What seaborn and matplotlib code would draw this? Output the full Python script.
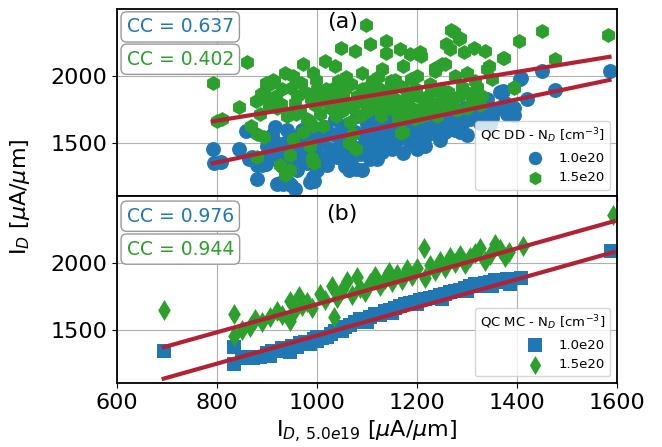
import matplotlib
matplotlib.use("Agg")
import matplotlib.pyplot as plt
import seaborn as sns

# ---- panel (a): QC DD ----
dd_blue_x = [791, 793, 807, 843, 857, 864, 870, 880, 880, 889, 897, 907, 913, 920, 925, 931, 943, 948, 956, 985, 991, 993,
             905, 910, 915, 925, 930, 935, 940, 945, 950, 955, 960,
             965, 970, 975, 980, 985, 990, 995, 1000, 1005, 1010,
             1015, 1020, 1025, 1030, 1035, 1040, 1045, 1050, 1055, 1058,
             1064, 1070, 1075, 1078, 1080, 1085, 1089, 1095, 1100, 1105, 1110,
             1115, 1118, 1120, 1125, 1129, 1135, 1140, 1145, 1150, 1155,
             1160, 1165, 1171, 1175, 1180, 1185, 1190, 1195, 1200, 1205,
             1210, 1216, 1220, 1223, 1230, 1238, 1245, 1250, 1255, 1260,
             1266, 1275, 1280, 1289, 1295, 1300, 1305, 1311, 1316,
             1325, 1335, 1339, 1343, 1350, 1359, 1366, 1371, 1375, 1380, 1393, 1393,
             1406, 1407, 1420, 1449, 1476, 1586,
             900, 918, 938, 962, 972, 998, 1012, 1022, 1048, 1062, 1068, 1092, 1102, 1122,
             1138, 1152, 1168, 1182, 1198, 1212, 1228, 1242, 1258, 1270, 1285, 1300, 1320, 1345]
dd_blue_y = [1455, 1351, 1357, 1455, 1588, 1380, 1400, 1232, 1334, 1337, 1347, 1470, 1519, 1199, 1202, 1199, 1200, 1187, 1162, 1211, 1248, 1215,
             1400, 1560, 1620, 1440, 1330, 1500, 1600, 1380, 1460, 1540, 1300,
             1420, 1600, 1500, 1350, 1640, 1450, 1560, 1300, 1400, 1520,
             1620, 1340, 1460, 1570, 1680, 1400, 1520, 1620, 1330, 1396,
             1300, 1480, 1580, 1310, 1700, 1420, 1300, 1540, 1640, 1384, 1470,
             1600, 1720, 1380, 1520, 1437, 1660, 1560, 1760, 1458, 1620,
             1520, 1700, 1425, 1600, 1780, 1500, 1660, 1560, 1458, 1720,
             1620, 1482, 1560, 1700, 1600, 1660, 1520, 1740, 1580, 1650,
             1690, 1600, 1700, 1640, 1760, 1560, 1680, 1762, 1704,
             1650, 1740, 1827, 1753, 1690, 1753, 1877, 1887, 1800, 1720, 1712, 1760,
             1975, 1988, 1830, 2037, 1894, 2037,
             1480, 1380, 1440, 1500, 1380, 1480, 1580, 1400, 1460, 1640, 1380, 1480, 1560, 1650,
             1480, 1700, 1560, 1640, 1620, 1540, 1650, 1600, 1700, 1640, 1580, 1720, 1700, 1640]

dd_green_x = [791, 800, 810, 843, 860, 867, 877, 880, 880, 887, 893, 893, 903, 905, 913, 911, 925, 935, 936, 945,
              946, 951, 951, 960, 971, 971, 985, 989, 991, 991, 991, 993, 1000, 1011, 1015, 1020, 1035, 1038, 1045, 1048,
              1058, 1064, 1065, 1071, 1075, 1078, 1080, 1090, 1098, 1105, 1110, 1115, 1125, 1130, 1138, 1138, 1145, 1155,
              1165, 1168, 1171, 1171, 1180, 1185, 1190, 1200, 1205, 1208, 1210, 1220, 1222, 1236, 1236, 1245, 1250, 1256,
              1257, 1266, 1268, 1273, 1276, 1283, 1283, 1286, 1293, 1300, 1314, 1316, 1316, 1336, 1339, 1343, 1349, 1371,
              1373, 1393, 1393, 1404, 1449, 1475, 1582,
              900, 920, 930, 940, 955, 965, 975, 980, 995, 1005, 1010, 1025, 1030, 1040, 1050, 1055, 1060, 1070, 1085,
              1090, 1095, 1100, 1108, 1120, 1128, 1135, 1140, 1150, 1160, 1162, 1175, 1185, 1195, 1198, 1215, 1225, 1230,
              1240, 1250, 1260, 1270, 1290, 1300, 1310, 1325,
              885, 898, 918, 928, 948, 958, 968, 988, 998, 1018, 1028, 1042, 1052, 1068, 1078, 1088, 1102,
              1112, 1122, 1132, 1148, 1158, 1170, 1178, 1188, 1202, 1212, 1228, 1242, 1262, 1280, 1296, 1320, 1330]
dd_green_y = [1950, 1667, 1680, 1771, 2106, 1630, 1815, 1569, 1396, 1864, 1544, 1880, 1778, 1940, 1965, 1970, 1340, 2025, 1262, 1410,
              1300, 2000, 1532, 1850, 2086, 1581, 1482, 1387, 2025, 1630, 1359, 1350, 1900, 1630, 2111, 1800, 2074, 1704, 1880, 2210,
              1990, 1500, 1655, 1568, 2185, 1458, 1850, 2020, 2382, 2234, 1960, 1760, 1900, 2050, 2259, 2173, 1820, 1970,
              2197, 1575, 2074, 1581, 1880, 2160, 1760, 2000, 2180, 2150, 1700, 1720, 1850, 2037, 2062, 1900, 2087, 2086,
              2237, 2200, 2342, 2325, 2000, 2271, 1850, 2282, 2175, 2025, 2207, 1889, 1963, 2182, 2054, 2075, 1975, 2137,
              2136, 1914, 1907, 2262, 2337, 2125, 2305,
              1830, 1760, 1900, 1700, 1800, 1740, 1880, 1680, 1780, 1720, 1860, 1760, 1900, 1820, 1740, 1900, 1800, 1760, 1700,
              1900, 1800, 1740, 1860, 1800, 1700, 1860, 1760, 1900, 1820, 1680, 1780, 1840, 1680, 1900, 1800, 1940, 1780,
              1700, 1840, 1760, 1800, 1920, 1760, 1840, 1780,
              1720, 1950, 1850, 1790, 1910, 1720, 1950, 1830, 1970, 1900, 1830, 1960, 1860, 1940, 1800, 1860, 1920,
              1830, 1990, 1780, 1960, 1740, 1920, 1700, 1980, 1850, 1760, 1880, 1800, 1880, 1750, 1880, 1920, 1850]

# ---- panel (b): QC MC ----
mc_blue_x = [693, 833, 833, 850, 862, 872, 886, 900, 910, 920, 930, 940, 950, 959, 966, 975, 985, 993, 1000, 1010,
             1020, 1028, 1036, 1045, 1055, 1065, 1076, 1086, 1096, 1106, 1116, 1126, 1136, 1146, 1156, 1166, 1176, 1186,
             1196, 1206, 1216, 1226, 1236, 1246, 1256, 1266, 1276, 1286, 1296, 1306, 1316, 1326, 1336, 1346, 1356, 1366,
             1376, 1386, 1407, 1589,
             905, 945, 1000, 1050, 1100, 1150, 1200, 1250, 1300, 1350, 1380]
mc_blue_y = [1347, 1371, 1248, 1290, 1300, 1290, 1300, 1330, 1345, 1340, 1365, 1355, 1380, 1370, 1400, 1410, 1395, 1430, 1420, 1440,
             1450, 1470, 1490, 1500, 1520, 1540, 1560, 1580, 1575, 1600, 1620, 1615, 1640, 1650, 1665, 1680, 1690, 1700,
             1710, 1720, 1730, 1740, 1745, 1760, 1770, 1785, 1790, 1800, 1815, 1825, 1840, 1830, 1850, 1860, 1870, 1855,
             1865, 1845, 1889, 2086,
             1310, 1335, 1450, 1495, 1560, 1625, 1690, 1730, 1790, 1830, 1880]

mc_green_x = [693, 833, 833, 850, 866, 876, 890, 905, 919, 930, 946, 946, 955, 963, 970, 979, 990, 1006, 1015, 1029,
              1033, 1040, 1050, 1059, 1070, 1079, 1085, 1095, 1105, 1115, 1125, 1135, 1143, 1150, 1160, 1170, 1180, 1190,
              1200, 1213, 1215, 1225, 1235, 1245, 1255, 1265, 1276, 1286, 1296, 1306, 1316, 1326, 1336, 1346, 1356, 1366,
              1376, 1383, 1411, 1593]
mc_green_y = [1648, 1619, 1458, 1500, 1520, 1582, 1560, 1600, 1644, 1610, 1569, 1718, 1650, 1755, 1680, 1705, 1660, 1767, 1720, 1829,
              1594, 1740, 1800, 1866, 1760, 1891, 1810, 1780, 1850, 1900, 1830, 1880, 1930, 1860, 1920, 1870, 1950, 1900,
              1960, 2111, 1890, 1980, 1940, 2010, 1960, 2040, 2000, 2060, 1990, 2040, 2070, 2111, 2010, 2060, 2140, 2100,
              2040, 2080, 2123, 2357]

# linear fits as drawn in the reference
dd_fit_x = [791, 1585]
dd_fit_blue = [1350, 1970]
dd_fit_green = [1662, 2142]
mc_fit_x = [693, 1593]
mc_fit_blue = [1138, 2079]
mc_fit_green = [1372, 2308]

cc_dd = ["0.637", "0.402"]
cc_mc = ["0.976", "0.944"]
dopings = ["1.0e20", "1.5e20"]
x_ticks = [600, 800, 1000, 1200, 1400, 1600]
y_ticks = [1500, 2000]

BLUE = "#1f77b4"
GREEN = "#2ca02c"
FIT = "#b22234"

fig, (ax_a, ax_b) = plt.subplots(2, 1, sharex=True, sharey=True, figsize=(6.62, 4.47), dpi=100)
fig.subplots_adjust(left=0.177, right=0.932, top=0.979, bottom=0.143, hspace=0)

panels = [
    (ax_a, dd_blue_x, dd_blue_y, dd_green_x, dd_green_y, dd_fit_x, dd_fit_blue, dd_fit_green,
     cc_dd, ("o", "h"), "QC DD - N$_D$ [cm$^{-3}$]", "(a)"),
    (ax_b, mc_blue_x, mc_blue_y, mc_green_x, mc_green_y, mc_fit_x, mc_fit_blue, mc_fit_green,
     cc_mc, ("s", "d"), "QC MC - N$_D$ [cm$^{-3}$]", "(b)"),
]

for ax, bx, by, gx, gy, fx, fb, fg, cc, markers, leg_title, tag in panels:
    ax.grid(True, color="#b0b0b0", lw=0.8)
    ax.set_axisbelow(True)
    sns.scatterplot(x=bx, y=by, ax=ax, color=BLUE, marker=markers[0], s=115, linewidth=0,
                    label=dopings[0], zorder=2)
    sns.scatterplot(x=gx, y=gy, ax=ax, color=GREEN, marker=markers[1], s=115, linewidth=0,
                    label=dopings[1], zorder=2)
    sns.lineplot(x=fx, y=fb, ax=ax, color=FIT, lw=3, zorder=3, legend=False)
    sns.lineplot(x=fx, y=fg, ax=ax, color=FIT, lw=3, zorder=3, legend=False)

    ax.legend(title=leg_title, loc="lower right", fontsize=9.5, title_fontsize=9.5,
              alignment="right", handletextpad=0.8, markerscale=0.9)

    box = dict(boxstyle="round,pad=0.3", fc="white", ec="0.6")
    ax.text(0.019, 0.957 if tag == "(a)" else 0.944, "CC = " + cc[0], transform=ax.transAxes,
            color=BLUE, fontsize=13.5, va="top", ha="left", bbox=box)
    ax.text(0.019, 0.784 if tag == "(a)" else 0.768, "CC = " + cc[1], transform=ax.transAxes,
            color=GREEN, fontsize=13.5, va="top", ha="left", bbox=box)
    ax.text(0.45, 0.985 if tag == "(a)" else 0.96, tag, transform=ax.transAxes,
            fontsize=16, va="top", ha="center")

    for sp in ax.spines.values():
        sp.set_linewidth(1.3)
    ax.tick_params(labelsize=16)

ax_b.set_xlim(600, 1600)
ax_b.set_xticks(x_ticks)
ax_b.set_ylim(1105, 2495)
ax_b.set_yticks(y_ticks)
ax_b.set_xlabel(r"I$_{D,\,5.0e19}$ [$\mu$A/$\mu$m]", fontsize=16)
ax_a.set_ylabel("")
ax_b.set_ylabel("")
fig.text(0.03, 0.56, r"I$_D$ [$\mu$A/$\mu$m]", rotation=90, va="center", ha="center", fontsize=16)

fig.savefig("out.png", dpi=100)
